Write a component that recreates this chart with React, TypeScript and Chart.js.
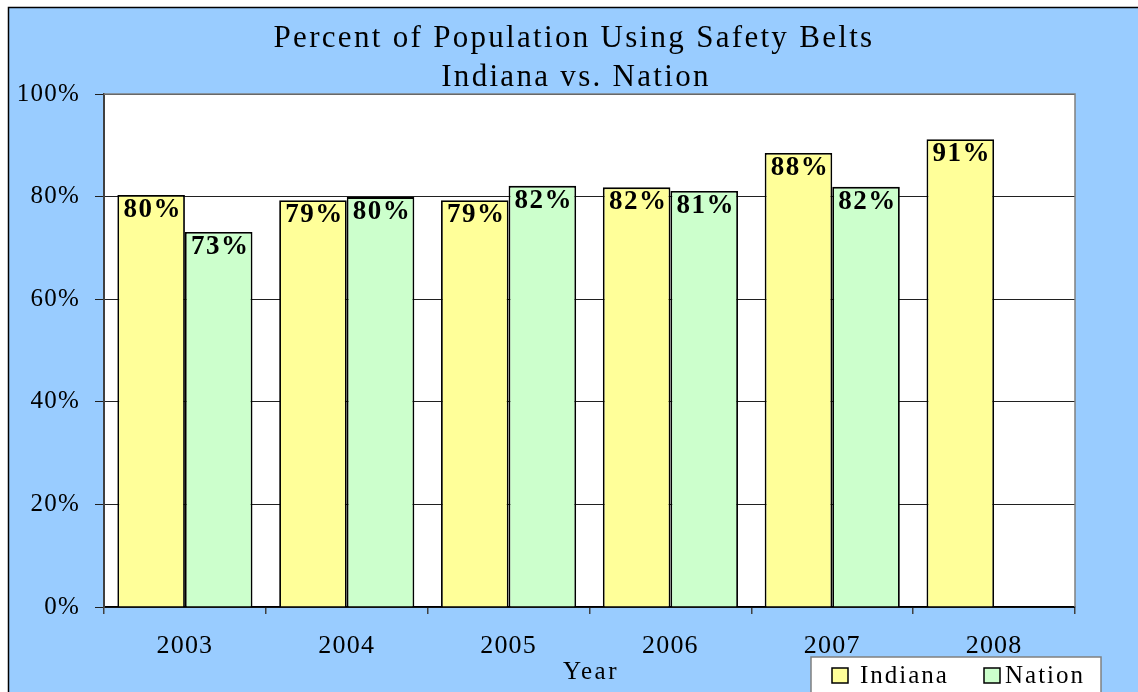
import React, { useEffect, useRef } from "react";
import { Chart, registerables } from "chart.js";

Chart.register(...registerables);

const years = ["2003", "2004", "2005", "2006", "2007", "2008"];
const indiana = [80.3, 79.3, 79.3, 81.8, 88.5, 91.2];
const nation: (number | null)[] = [73.1, 79.9, 82.1, 81.1, 81.9, null];
const indianaLabels = ["80%", "79%", "79%", "82%", "88%", "91%"];
const nationLabels = ["73%", "80%", "82%", "81%", "82%", ""];
const yTicks = [0, 20, 40, 60, 80, 100];
const titleLines = ["Percent of Population Using Safety Belts", "Indiana vs. Nation"];
const xTitle = "Year";
const seriesNames = ["Indiana", "Nation"];

const BLUE = "#99CCFF";
const YELLOW = "#FFFF99";
const GREEN = "#CCFFCC";
const SERIF = "'Liberation Serif', 'Times New Roman', serif";

const decorPlugin = {
  id: "decor",
  beforeDraw(chart: any) {
    const ctx = chart.ctx;
    const { width, height, chartArea } = chart;
    ctx.save();
    ctx.fillStyle = "#ffffff";
    ctx.fillRect(0, 0, width, height);
    ctx.fillStyle = BLUE;
    ctx.fillRect(9, 8, width - 9, height - 8);
    ctx.strokeStyle = "#000";
    ctx.lineWidth = 1.5;
    ctx.beginPath();
    ctx.moveTo(8.5, height);
    ctx.lineTo(8.5, 7.5);
    ctx.lineTo(width, 7.5);
    ctx.stroke();
    ctx.fillStyle = "#ffffff";
    ctx.fillRect(chartArea.left, chartArea.top, chartArea.right - chartArea.left, chartArea.bottom - chartArea.top);
    ctx.restore();
    (ctx as any).letterSpacing = "1.2px";
  },
  afterDraw(chart: any) {
    const ctx = chart.ctx;
    const { chartArea } = chart;
    ctx.save();
    // plot border top/right
    ctx.strokeStyle = "#808080";
    ctx.lineWidth = 1.5;
    ctx.beginPath();
    ctx.moveTo(chartArea.left, chartArea.top);
    ctx.lineTo(chartArea.right, chartArea.top);
    ctx.lineTo(chartArea.right, chartArea.bottom);
    ctx.stroke();

    // data labels
    ctx.fillStyle = "#000";
    ctx.textAlign = "center";
    ctx.textBaseline = "alphabetic";
    ctx.font = `bold 27px ${SERIF}`;
    (ctx as any).letterSpacing = "1.5px";
    const labelSets = [indianaLabels, nationLabels];
    chart.data.datasets.forEach((_ds: any, di: number) => {
      const meta = chart.getDatasetMeta(di);
      meta.data.forEach((el: any, i: number) => {
        const txt = labelSets[di][i];
        if (!txt) return;
        ctx.fillText(txt, el.x + 1.5, el.y + 22);
      });
    });

    // title
    ctx.font = `31px ${SERIF}`;
    (ctx as any).letterSpacing = "2.3px";
    ctx.fillText(titleLines[0], 574, 47);
    ctx.fillText(titleLines[1], 576, 86);

    // x title
    ctx.font = `25px ${SERIF}`;
    (ctx as any).letterSpacing = "2.5px";
    ctx.fillText(xTitle, (chartArea.left + chartArea.right) / 2 + 1.5, 679);

    // legend
    ctx.fillStyle = "#ffffff";
    ctx.fillRect(811, 657, 290, 40);
    ctx.strokeStyle = "#808080";
    ctx.lineWidth = 1.5;
    ctx.strokeRect(811, 657, 290, 40);
    const items = [
      { x: 832, tx: 860, color: YELLOW, name: seriesNames[0] },
      { x: 984, tx: 1005, color: GREEN, name: seriesNames[1] },
    ];
    ctx.textAlign = "left";
    ctx.font = `25px ${SERIF}`;
    (ctx as any).letterSpacing = "2px";
    items.forEach((it) => {
      ctx.fillStyle = it.color;
      ctx.fillRect(it.x, 668, 16, 15);
      ctx.strokeStyle = "#000";
      ctx.lineWidth = 1.5;
      ctx.strokeRect(it.x, 668, 16, 15);
      ctx.fillStyle = "#000";
      ctx.fillText(it.name, it.tx, 683);
    });
    ctx.restore();
    (ctx as any).letterSpacing = "0px";
  },
};

export default function App() {
  const ref = useRef<HTMLCanvasElement | null>(null);
  useEffect(() => {
    if (!ref.current) return;
    const chart = new Chart(ref.current, {
      type: "bar",
      data: {
        labels: years,
        datasets: [
          {
            label: seriesNames[0],
            data: indiana,
            backgroundColor: YELLOW,
            borderColor: "#000",
            borderWidth: 1.8,
            categoryPercentage: 0.835,
            barPercentage: 1,
          },
          {
            label: seriesNames[1],
            data: nation,
            backgroundColor: GREEN,
            borderColor: "#000",
            borderWidth: 1.8,
            categoryPercentage: 0.835,
            barPercentage: 1,
          },
        ],
      },
      options: {
        responsive: false,
        animation: false,
        layout: { padding: { left: 0, top: 94, right: 63, bottom: 0 } },
        plugins: {
          legend: { display: false },
          title: { display: false },
          tooltip: { enabled: false },
        },
        scales: {
          x: {
            offset: true,
            grid: {
              display: true,
              offset: true,
              drawOnChartArea: false,
              drawTicks: true,
              tickLength: 7,
              color: "#404040",
              lineWidth: 1.5,
            },
            border: { display: true, color: "#000", width: 1.5 },
            ticks: {
              color: "#000",
              font: { family: SERIF, size: 26 },
              padding: 17,
              maxRotation: 0,
            },
            afterFit(scale: any) {
              scale.height = 85;
            },
          },
          y: {
            min: 0,
            max: 100,
            afterBuildTicks(scale: any) {
              scale.ticks = yTicks.map((v) => ({ value: v }));
            },
            grid: {
              color: "#202020",
              lineWidth: 1,
              tickLength: 9,
              drawTicks: true,
            },
            border: { display: true, color: "#404040", width: 2 },
            ticks: {
              color: "#000",
              font: { family: SERIF, size: 25 },
              padding: 15,
              callback: (v: any) => `${v}%`,
            },
            afterFit(scale: any) {
              scale.width = 104;
            },
          },
        },
      },
      plugins: [decorPlugin],
    });
    return () => chart.destroy();
  }, []);
  return (
    <canvas
      ref={ref}
      width={1138}
      height={692}
      style={{ position: "fixed", left: 0, top: 0, display: "block" }}
    />
  );
}
